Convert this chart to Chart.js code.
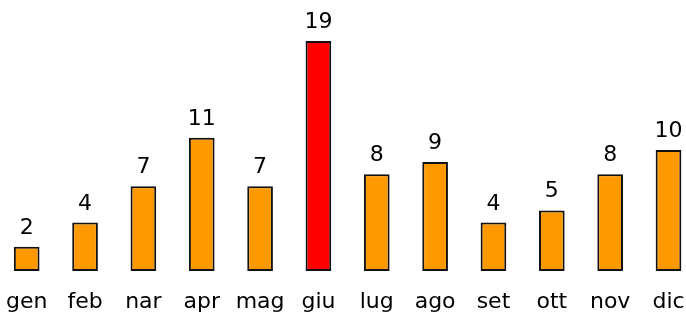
<!DOCTYPE html>
<html>
<head>
<meta charset="utf-8">
<script src="https://cdn.jsdelivr.net/npm/chart.js@4/dist/chart.umd.min.js"></script>
<style>
html,body{margin:0;padding:0;background:#fff;}
#wrap{width:686px;height:315px;position:relative;}
</style>
</head>
<body>
<div id="wrap"><canvas id="c"></canvas></div>
<script>
const categories = ['gen','feb','nar','apr','mag','giu','lug','ago','set','ott','nov','dic'];
const values = [2,4,7,11,7,19,8,9,4,5,8,10];
const highlight = 'giu';

const ORANGE = '#FF9900';
const RED = '#FF0000';
const FONT = '"DejaVu Sans", Verdana, sans-serif';

const valueLabels = {
  id: 'valueLabels',
  afterDatasetsDraw(chart) {
    const ctx = chart.ctx;
    const meta = chart.getDatasetMeta(0);
    ctx.save();
    ctx.font = '22px ' + FONT;
    ctx.fillStyle = '#000';
    ctx.textAlign = 'center';
    ctx.textBaseline = 'alphabetic';
    meta.data.forEach((bar, i) => {
      ctx.fillText(String(values[i]), bar.x, bar.y - 13);
    });
    ctx.restore();
  }
};

new Chart(document.getElementById('c'), {
  type: 'bar',
  data: {
    labels: categories,
    datasets: [{
      data: values,
      backgroundColor: categories.map(c => c === highlight ? RED : ORANGE),
      borderColor: '#111',
      borderWidth: 2,
      borderSkipped: false,
      barPercentage: 0.88,
      categoryPercentage: 0.5,
      clip: false
    }]
  },
  options: {
    responsive: true,
    maintainAspectRatio: false,
    animation: false,
    layout: { padding: { left: 26.7, right: 17.5, top: 41, bottom: 0 } },
    plugins: { legend: { display: false }, tooltip: { enabled: false } },
    scales: {
      x: {
        offset: false,
        grid: { display: false, drawTicks: false },
        border: { display: false },
        ticks: {
          autoSkip: false, maxRotation: 0, minRotation: 0,
          padding: 18,
          color: '#000',
          font: { family: FONT, size: 22 }
        },
        afterFit(scale) {
          scale.height = 44;
          scale.paddingLeft = 0;
          scale.paddingRight = 0;
        }
      },
      y: {
        display: false,
        min: 0,
        max: 19
      }
    }
  },
  plugins: [valueLabels]
});
</script>
</body>
</html>
